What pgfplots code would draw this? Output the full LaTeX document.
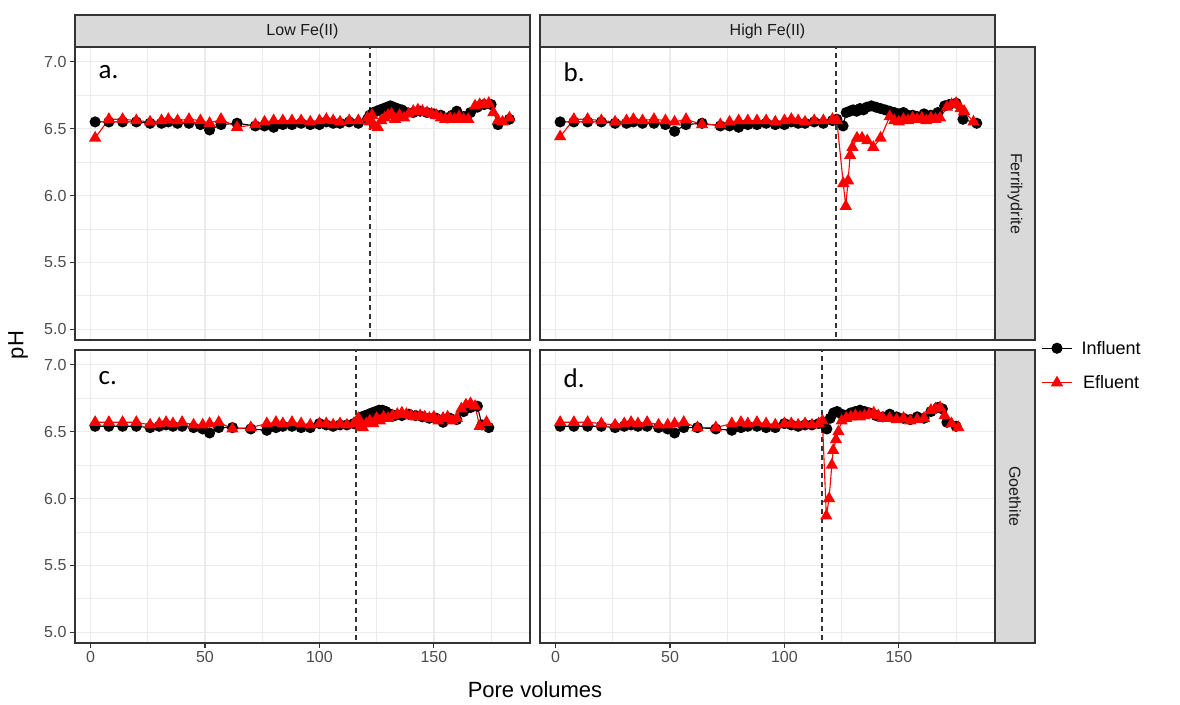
\documentclass[border=0pt]{standalone}
\usepackage{fontspec}
\setmainfont{Liberation Sans}
\newfontfamily\labfont{Carlito}
\usepackage{pgfplots}
\pgfplotsset{compat=1.18}

\definecolor{grey10}{HTML}{1A1A1A}
\definecolor{grey20}{HTML}{333333}
\definecolor{grey30}{HTML}{4D4D4D}
\definecolor{grey92}{HTML}{EBEBEB}
\definecolor{stripfill}{HTML}{D9D9D9}

\pgfplotsset{
  facet/.style={
    scale only axis, width=455pt, height=293pt,
    xmin=-6.8, xmax=192, ymin=4.92, ymax=7.11,
    xtick={0,50,100,150}, ytick={5,5.5,6,6.5,7},
    minor xtick={25,75,125,175}, minor ytick={5.25,5.75,6.25,6.75},
    grid=both,
    major grid style={grey92, line width=1.3pt},
    minor grid style={grey92, line width=0.7pt},
    axis line style={grey20, line width=1.1pt},
    tick pos=left, tick align=outside,
    major tick length=5pt, minor tick length=0pt,
    tick style={grey20, line width=1.1pt},
    tick label style={font=\fontsize{16}{19}\selectfont, text=grey30},
    /pgf/number format/assume math mode=true,
    yticklabel style={/pgf/number format/.cd, fixed, fixed zerofill, precision=1},
    legend image code/.code={\draw[mark repeat=2,mark phase=2,#1] plot coordinates {(0pt,0pt) (15pt,0pt) (30pt,0pt)};},
  },
  notopx/.style={xticklabels={}, xtick style={draw=none}},
  noleft/.style={yticklabels={}, ytick style={draw=none}},
  inf/.style={black, line width=1.1pt, mark=*, mark size=5pt},
  eff/.style={red, line width=1.1pt, mark=triangle*, mark size=6pt},
  vl/.style={grey20, line width=1.6pt, dash pattern=on 5pt off 4pt, forget plot},
}

\begin{document}
\begin{tikzpicture}[x=1pt, y=1pt]
\useasboundingbox (0,0) rectangle (1180,704);

% strips
\draw[grey20, fill=stripfill, line width=1.1pt] (75,657) rectangle (530,689);
\draw[grey20, fill=stripfill, line width=1.1pt] (540,657) rectangle (995,689);
\draw[grey20, fill=stripfill, line width=1.1pt] (995,657) rectangle (1035,364);
\draw[grey20, fill=stripfill, line width=1.1pt] (995,354) rectangle (1035,61);
\node[text=grey10, font=\fontsize{16}{19}\selectfont] at (302.5,673) {Low Fe(II)};
\node[text=grey10, font=\fontsize{16}{19}\selectfont] at (767.5,673) {High Fe(II)};
\node[text=grey10, font=\fontsize{16}{19}\selectfont, rotate=-90] at (1015,510.5) {Ferrihydrite};
\node[text=grey10, font=\fontsize{16}{19}\selectfont, rotate=-90] at (1015,207.5) {Goethite};

% a. Low Fe(II), ferrihydrite
\begin{axis}[facet, notopx, at={(75pt,657pt)}, anchor=north west]
\addplot[vl] coordinates {(122.1,4) (122.1,8)};
\addplot[inf] coordinates {
(2,6.55)(8,6.55)(14,6.55)(20,6.55)(26,6.54)(31,6.54)(34,6.55)(38,6.54)(43,6.54)(48,6.53)
(52,6.49)(57,6.53)(64,6.54)(72,6.52)(76,6.52)(80,6.51)(84,6.53)(88,6.53)(92,6.54)(96,6.53)
(100,6.53)(103,6.55)(106,6.54)(109,6.54)(113,6.55)(117,6.54)(121,6.57)
(122,6.60)(123.5,6.62)(125,6.63)(126.5,6.64)(128,6.65)(129.5,6.66)(131,6.67)(132.5,6.66)
(134,6.65)(136,6.64)(138,6.62)(141,6.62)(144,6.63)(147,6.62)(150,6.61)(153,6.60)(156,6.58)
(158,6.60)(160,6.63)(163,6.59)(166,6.62)(169,6.66)(172,6.68)(175,6.68)(178,6.53)(183,6.57)};
\addplot[eff] coordinates {
(2,6.43)(8,6.57)(14,6.57)(20,6.56)(26,6.55)(31,6.56)(34,6.57)(38,6.56)(43,6.57)(48,6.56)
(52,6.54)(57,6.57)(64,6.51)(72,6.53)(76,6.55)(80,6.56)(84,6.56)(88,6.56)(92,6.56)(96,6.55)
(100,6.56)(103,6.57)(106,6.56)(109,6.55)(113,6.56)(117,6.56)(121,6.58)
(122,6.55)(123,6.60)(124,6.52)(125.5,6.51)(127,6.56)(128.5,6.58)(130,6.60)(131.5,6.61)
(133,6.57)(135,6.60)(137,6.58)(139,6.61)(141,6.63)(143,6.64)(145,6.63)(147,6.62)(149,6.61)
(151,6.60)(153,6.58)(155,6.57)(157,6.58)(159,6.57)(161,6.59)(163,6.57)(165,6.57)(168,6.67)
(170,6.68)(172,6.68)(174,6.69)(176,6.62)(178,6.56)(180,6.55)(183,6.58)};
\node[anchor=west, font=\labfont\fontsize{27}{30}\selectfont] at (axis cs:2,6.92) {a.};
\end{axis}

% b. High Fe(II), ferrihydrite
\begin{axis}[facet, notopx, noleft, at={(540pt,657pt)}, anchor=north west]
\addplot[vl] coordinates {(122.6,4) (122.6,8)};
\addplot[inf] coordinates {
(2,6.55)(8,6.55)(14,6.55)(20,6.55)(26,6.54)(31,6.54)(34,6.55)(38,6.54)(43,6.54)(48,6.53)
(52,6.48)(57,6.53)(64,6.54)(72,6.52)(76,6.52)(80,6.51)(84,6.53)(88,6.53)(92,6.54)(96,6.53)
(100,6.53)(103,6.55)(106,6.54)(109,6.54)(113,6.55)(117,6.54)(121,6.56)
(122.9,6.57)(125.6,6.52)(127,6.62)(128.5,6.63)(130,6.64)(131.5,6.63)(133,6.65)(134.5,6.64)
(136,6.66)(138,6.67)(140,6.66)(142,6.65)(144,6.64)(146,6.63)(148,6.62)(150,6.61)(152,6.62)
(154,6.60)(156,6.60)(158,6.59)(161,6.61)(164,6.60)(167,6.62)(170,6.67)(172,6.68)(175,6.69)
(178,6.57)(184,6.54)};
\addplot[eff] coordinates {
(2,6.44)(8,6.57)(14,6.57)(20,6.56)(26,6.55)(31,6.56)(34,6.57)(38,6.56)(43,6.57)(48,6.56)
(52,6.55)(57,6.57)(64,6.53)(72,6.53)(76,6.55)(80,6.56)(84,6.56)(88,6.56)(92,6.56)(96,6.55)
(100,6.56)(103,6.57)(106,6.56)(109,6.55)(113,6.56)(117,6.56)(121,6.57)
(122.9,6.56)(125.7,6.09)(126.8,5.92)(127.8,6.11)(128.7,6.30)(129.7,6.36)(131.7,6.43)
(133.9,6.43)(136.2,6.41)(138.8,6.36)(142,6.43)(146,6.59)(148,6.56)(150,6.55)(152,6.57)
(154,6.56)(156,6.58)(158,6.57)(160,6.58)(162,6.56)(164,6.58)(166,6.57)(168,6.58)(171,6.66)
(173,6.68)(175,6.69)(177,6.65)(178.5,6.63)(182.6,6.55)};
\node[anchor=west, font=\labfont\fontsize{27}{30}\selectfont] at (axis cs:2,6.92) {b.};
\end{axis}

% c. Low Fe(II), goethite
\begin{axis}[facet, at={(75pt,354pt)}, anchor=north west]
\addplot[vl] coordinates {(116,4) (116,8)};
\addplot[inf] coordinates {
(2,6.54)(8,6.54)(14,6.54)(20,6.54)(26,6.53)(30,6.54)(33,6.55)(36,6.54)(40,6.54)(45,6.53)
(49,6.52)(52,6.49)(56,6.53)(62,6.53)(70,6.52)(77,6.51)(81,6.53)(84,6.54)(88,6.54)(92,6.53)
(96,6.53)(100,6.56)(103,6.55)(106,6.54)(109,6.55)(112,6.55)(115,6.56)
(117,6.58)(118.5,6.61)(120,6.62)(121.5,6.63)(123,6.64)(124.5,6.65)(126,6.66)(127.5,6.66)
(129,6.65)(131,6.63)(133,6.62)(136,6.62)(139,6.63)(142,6.62)(145,6.61)(148,6.60)(151,6.60)
(154,6.57)(157,6.60)(160,6.59)(163,6.65)(166,6.68)(169,6.69)(171,6.55)(174,6.53)};
\addplot[eff] coordinates {
(2,6.57)(8,6.57)(14,6.57)(20,6.57)(26,6.55)(30,6.56)(33,6.57)(36,6.56)(40,6.57)(45,6.55)
(49,6.55)(52,6.56)(56,6.57)(62,6.52)(70,6.53)(77,6.56)(81,6.57)(84,6.56)(88,6.57)(92,6.56)
(96,6.55)(100,6.56)(103,6.56)(106,6.55)(109,6.56)(112,6.55)(115,6.56)
(116,6.57)(117,6.60)(118,6.54)(119,6.53)(120.5,6.56)(122,6.58)(123.5,6.56)(125,6.60)
(126.5,6.58)(128,6.61)(130,6.60)(132,6.62)(134,6.63)(136,6.64)(138,6.63)(140,6.62)(142,6.61)
(144,6.62)(146,6.61)(148,6.60)(150,6.61)(152,6.58)(154,6.60)(156,6.61)(158,6.58)(160,6.60)
(162,6.67)(164,6.70)(166,6.71)(168,6.69)(170,6.54)(173,6.57)};
\node[anchor=west, font=\labfont\fontsize{27}{30}\selectfont] at (axis cs:2,6.9) {c.};
\end{axis}

% d. High Fe(II), goethite
\begin{axis}[facet, noleft, at={(540pt,354pt)}, anchor=north west,
  legend style={at={(1.095,0.947)}, anchor=west, draw=none, fill=none,
    font=\fontsize{18}{21}\selectfont, row sep=16pt,
    nodes={inner xsep=9pt}}]
\addplot[vl] coordinates {(116.5,4) (116.5,8)};
\addplot[inf] coordinates {
(2,6.54)(8,6.54)(14,6.54)(20,6.54)(26,6.53)(30,6.54)(33,6.55)(36,6.54)(40,6.54)(45,6.53)
(49,6.52)(52,6.49)(56,6.53)(62,6.53)(70,6.52)(77,6.51)(81,6.53)(84,6.54)(88,6.54)(92,6.53)
(96,6.53)(100,6.56)(103,6.55)(106,6.54)(109,6.55)(112,6.55)(115,6.56)
(117,6.57)(118.5,6.52)(120,6.60)(121.5,6.64)(123,6.65)(125,6.63)(127,6.62)(129,6.64)
(131,6.65)(133,6.66)(135,6.65)(137,6.64)(140,6.62)(143,6.61)(146,6.63)(149,6.61)(152,6.60)
(155,6.59)(158,6.61)(161,6.60)(164,6.65)(167,6.68)(169,6.67)(171,6.57)(175,6.54)};
\addlegendentry{Influent}
\addplot[eff] coordinates {
(2,6.57)(8,6.57)(14,6.57)(20,6.56)(26,6.55)(30,6.56)(33,6.57)(36,6.56)(40,6.57)(45,6.55)
(49,6.55)(52,6.56)(56,6.57)(62,6.53)(70,6.53)(77,6.56)(81,6.57)(84,6.56)(88,6.57)(92,6.56)
(96,6.55)(100,6.56)(103,6.56)(106,6.55)(109,6.56)(112,6.55)(115,6.56)
(116.6,6.58)(118.3,5.87)(119.5,6.00)(120.7,6.25)(121.3,6.36)(122.5,6.44)(123.6,6.50)
(125,6.58)(127,6.60)(129,6.61)(131,6.62)(133,6.61)(135,6.62)(137,6.63)(139,6.64)(141,6.62)
(143,6.60)(146,6.60)(149,6.59)(152,6.60)(155,6.58)(158,6.59)(161,6.60)(164,6.66)(166,6.67)
(168,6.68)(170,6.62)(173,6.56)(176,6.53)};
\addlegendentry{Efluent}
\node[anchor=west, font=\labfont\fontsize{27}{30}\selectfont] at (axis cs:2,6.9) {d.};
\end{axis}

% axis titles
\node[rotate=90, font=\fontsize{22}{26}\selectfont] at (18,359) {pH};
\node[font=\fontsize{22}{26}\selectfont] at (535,14) {Pore volumes};
\end{tikzpicture}
\end{document}
